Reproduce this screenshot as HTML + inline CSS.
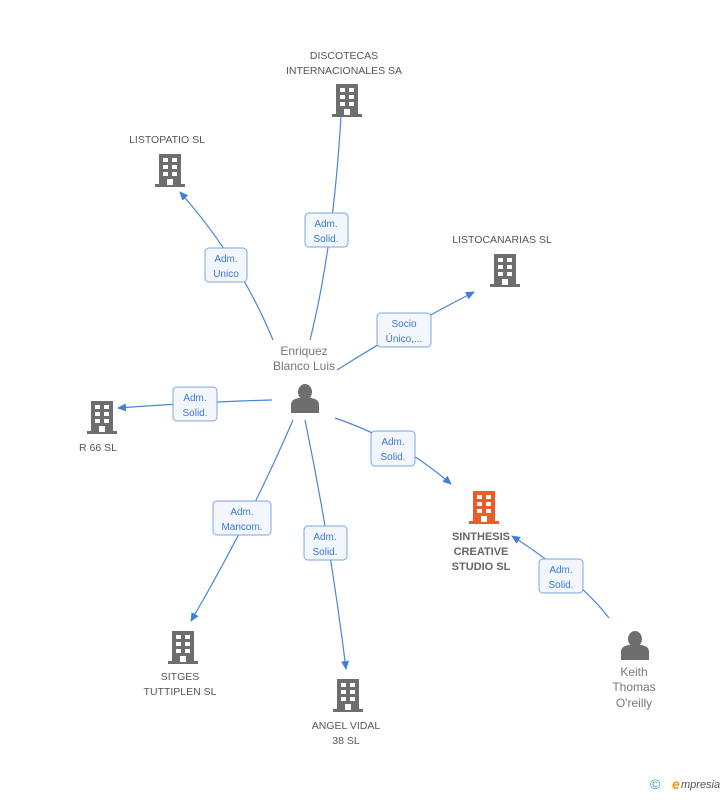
<!DOCTYPE html>
<html><head><meta charset="utf-8"><style>
body{margin:0;background:#fff;width:728px;height:795px;overflow:hidden;font-family:"Liberation Sans",sans-serif}
</style></head><body>
<svg width="728" height="795" viewBox="0 0 728 795" xmlns="http://www.w3.org/2000/svg" font-family="Liberation Sans, sans-serif">
<defs>
<g id="b">
<rect x="-11" y="-17" width="22" height="31" />
<rect x="-15" y="13" width="30" height="3"/>
</g>
<g id="w" fill="#fff">
<rect x="-7" y="-13" width="5" height="4"/><rect x="2" y="-13" width="5" height="4"/>
<rect x="-7" y="-6" width="5" height="4"/><rect x="2" y="-6" width="5" height="4"/>
<rect x="-7" y="1" width="5" height="4"/><rect x="2" y="1" width="5" height="4"/>
<rect x="-3" y="8" width="6" height="6"/>
</g>
<g id="p" fill="#6e6e6e">
<ellipse cx="0" cy="-7" rx="7" ry="8"/>
<path d="M-14 14 L-14 6 Q-14 0 -6 -1 L6 -1 Q14 0 14 6 L14 14 Z"/>
</g>
<marker id="a" markerWidth="10" markerHeight="10" refX="8" refY="5" orient="auto" markerUnits="userSpaceOnUse">
<path d="M0 1 L9 5 L0 9 Z" fill="#3f7fd8"/></marker>
</defs>
<g stroke="#4a86d8" stroke-width="1.2" fill="none" marker-end="url(#a)">
<path d="M273 340 Q240 260 180 192"/>
<path d="M310 340 Q335 240 342 97"/>
<path d="M337 370 Q400 330 474 292"/>
<path d="M272 400 Q200 402 118 408"/>
<path d="M335 418 Q400 440 451 484"/>
<path d="M293 420 Q250 520 191 621"/>
<path d="M305 420 Q330 540 346 669"/>
<path d="M609 618 Q580 580 512 536"/>
</g>
<g fill="#f3f7fd" stroke="#7aa6e0" stroke-width="1">
<rect x="205" y="248" width="42" height="34" rx="4"/>
<rect x="305" y="213" width="43" height="34" rx="4"/>
<rect x="377" y="313" width="54" height="34" rx="4"/>
<rect x="173" y="387" width="44" height="34" rx="4"/>
<rect x="371" y="431" width="44" height="35" rx="4"/>
<rect x="213" y="501" width="58" height="34" rx="4"/>
<rect x="304" y="526" width="43" height="34" rx="4"/>
<rect x="539" y="559" width="44" height="34" rx="4"/>
</g>
<g fill="#3a78d4" font-size="10" text-anchor="middle">
<text x="226" y="262">Adm.</text><text x="226" y="277">Unico</text>
<text x="326" y="227">Adm.</text><text x="326" y="242">Solid.</text>
<text x="404" y="327">Socio</text><text x="404" y="342">Único,...</text>
<text x="195" y="401">Adm.</text><text x="195" y="416">Solid.</text>
<text x="393" y="445">Adm.</text><text x="393" y="460">Solid.</text>
<text x="242" y="515">Adm.</text><text x="242" y="530">Mancom.</text>
<text x="325" y="540">Adm.</text><text x="325" y="555">Solid.</text>
<text x="561" y="573">Adm.</text><text x="561" y="588">Solid.</text>
</g>
<g fill="#6e6e6e">
<g transform="translate(347,101)"><use href="#b"/><use href="#w"/></g>
<g transform="translate(170,171)"><use href="#b"/><use href="#w"/></g>
<g transform="translate(505,271)"><use href="#b"/><use href="#w"/></g>
<g transform="translate(102,418)"><use href="#b"/><use href="#w"/></g>
<g transform="translate(183,648)"><use href="#b"/><use href="#w"/></g>
<g transform="translate(348,696)"><use href="#b"/><use href="#w"/></g>
</g>
<g fill="#f05a28" transform="translate(484,508)"><use href="#b"/><use href="#w"/></g>
<g transform="translate(305,399)"><use href="#p"/></g>
<g transform="translate(635,646)"><use href="#p"/></g>
<g fill="#555" font-size="10.5" text-anchor="middle">
<text x="344" y="59">DISCOTECAS</text><text x="344" y="74">INTERNACIONALES SA</text>
<text x="167" y="143">LISTOPATIO  SL</text>
<text x="502" y="243">LISTOCANARIAS SL</text>
<text x="98" y="451">R 66  SL</text>
<text x="180" y="680">SITGES</text><text x="180" y="695">TUTTIPLEN SL</text>
<text x="346" y="729">ANGEL VIDAL</text><text x="346" y="744">38 SL</text>
</g>
<g fill="#777" font-size="12" text-anchor="middle">
<text x="304" y="355">Enriquez</text><text x="304" y="370">Blanco Luis</text>
<text x="634" y="676">Keith</text><text x="634" y="691">Thomas</text><text x="634" y="707">O'reilly</text>
</g>
<g fill="#666" font-size="11" font-weight="bold" text-anchor="middle">
<text x="481" y="540">SINTHESIS</text><text x="481" y="555">CREATIVE</text><text x="481" y="570">STUDIO SL</text>
</g>
<text x="650" y="789" fill="#2a9bbf" font-size="14">©</text>
<text x="672" y="789" fill="#e8961e" font-size="14" font-style="italic" font-weight="bold">e</text>
<text x="681" y="788" fill="#555" font-size="11" font-style="italic">mpresia</text>
</svg>
</body></html>
